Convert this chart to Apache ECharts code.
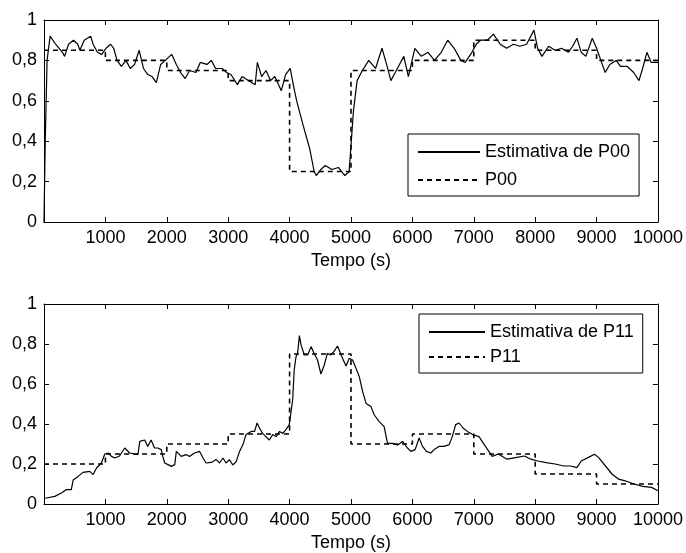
<!DOCTYPE html>
<html><head><meta charset="utf-8">
<script src="https://cdn.jsdelivr.net/npm/echarts@6/dist/echarts.min.js"></script>
<style>html,body{margin:0;padding:0;background:#fff}#c{width:686px;height:553px}</style>
</head><body><div id="c"></div>
<script>
// ---- data ----
const stepStarts = [0,1000,2000,3000,4000,5000,6000,7000,8000,9000,10000];
const p00True = [0.85,0.8,0.75,0.7,0.25,0.75,0.8,0.9,0.85,0.8];
const p11True = [0.2,0.25,0.3,0.35,0.75,0.3,0.35,0.25,0.15,0.1];

const p00EstTime = [0,20,50,100,190,300,335,400,480,550,585,655,760,800,870,940,1010,1085,1135,1190,1260,1335,1405,1475,1550,1620,1690,1760,1830,1900,1975,2080,2155,2225,2300,2370,2475,2545,2655,2725,2795,2900,2975,3045,3150,3225,3330,3440,3475,3545,3615,3690,3760,3865,3935,4010,4060,4115,4220,4330,4400,4435,4510,4580,4690,4795,4900,4970,5005,5040,5100,5185,5290,5400,5505,5580,5650,5720,5790,5860,5935,6040,6145,6255,6360,6470,6575,6680,6790,6860,6970,7040,7110,7220,7320,7430,7535,7645,7750,7860,7980,8040,8110,8220,8325,8430,8540,8610,8680,8750,8825,8930,9000,9070,9140,9215,9320,9390,9500,9605,9690,9750,9820,9890,10000];
const p00EstValue = [0.0,0.4,0.8,0.92,0.88,0.84,0.82,0.88,0.9,0.88,0.85,0.9,0.92,0.88,0.84,0.83,0.86,0.88,0.86,0.8,0.77,0.8,0.76,0.78,0.85,0.76,0.73,0.72,0.69,0.78,0.8,0.83,0.78,0.74,0.71,0.75,0.74,0.79,0.78,0.8,0.76,0.76,0.74,0.73,0.68,0.72,0.7,0.68,0.79,0.72,0.75,0.7,0.72,0.65,0.73,0.76,0.68,0.6,0.48,0.36,0.25,0.23,0.26,0.28,0.26,0.27,0.23,0.25,0.4,0.55,0.7,0.75,0.8,0.76,0.86,0.78,0.7,0.74,0.78,0.82,0.72,0.86,0.82,0.84,0.8,0.84,0.9,0.86,0.8,0.79,0.84,0.88,0.9,0.9,0.93,0.88,0.86,0.88,0.87,0.88,0.95,0.86,0.82,0.87,0.85,0.86,0.84,0.87,0.91,0.84,0.82,0.91,0.86,0.8,0.74,0.78,0.8,0.77,0.77,0.74,0.7,0.76,0.84,0.79,0.79];

const p11EstTime = [0,40,175,285,365,445,475,555,635,745,800,855,935,990,1045,1100,1150,1230,1315,1395,1475,1530,1560,1640,1690,1745,1800,1855,1910,1935,1965,2020,2075,2130,2155,2235,2315,2370,2450,2535,2590,2640,2725,2805,2860,2915,2965,3020,3075,3130,3185,3240,3290,3375,3430,3470,3510,3560,3615,3670,3725,3780,3835,3890,3940,3995,4020,4050,4075,4105,4130,4160,4185,4240,4295,4350,4400,4455,4510,4565,4615,4670,4725,4780,4830,4875,4920,4970,5025,5080,5135,5190,5245,5325,5380,5460,5540,5595,5675,5760,5840,5920,5975,6045,6110,6165,6230,6300,6355,6435,6515,6600,6650,6705,6760,6825,6895,6980,7085,7190,7300,7400,7540,7680,7825,7930,8040,8180,8325,8465,8575,8680,8750,8860,8965,9035,9145,9250,9360,9465,9610,9750,9895,10000];
const p11EstValue = [0.03,0.03,0.038,0.055,0.072,0.072,0.12,0.138,0.158,0.163,0.147,0.18,0.205,0.25,0.255,0.238,0.23,0.24,0.28,0.255,0.25,0.247,0.313,0.32,0.288,0.32,0.28,0.28,0.272,0.238,0.205,0.197,0.188,0.197,0.263,0.238,0.247,0.237,0.255,0.263,0.23,0.205,0.208,0.222,0.205,0.23,0.205,0.222,0.195,0.212,0.263,0.297,0.347,0.363,0.363,0.405,0.38,0.353,0.337,0.32,0.347,0.337,0.363,0.353,0.372,0.397,0.453,0.52,0.67,0.737,0.753,0.842,0.797,0.745,0.745,0.787,0.753,0.72,0.65,0.695,0.753,0.745,0.763,0.79,0.753,0.72,0.69,0.728,0.72,0.68,0.637,0.562,0.503,0.487,0.445,0.412,0.387,0.303,0.303,0.295,0.313,0.28,0.263,0.272,0.33,0.288,0.263,0.255,0.272,0.288,0.288,0.297,0.337,0.397,0.405,0.38,0.363,0.347,0.337,0.288,0.238,0.25,0.224,0.232,0.24,0.224,0.215,0.207,0.2,0.19,0.19,0.182,0.215,0.232,0.249,0.232,0.19,0.15,0.124,0.116,0.1,0.088,0.083,0.066];

const xTickLabels = ['', '1000','2000','3000','4000','5000','6000','7000','8000','9000','10000'];
const yTickLabels = ['0','0,2','0,4','0,6','0,8','1'];

// ---- build ----
const zip = (a, b) => a.map((v, i) => [v, b[i]]);
const stepData = vals => stepStarts.map((t, i) => [t, vals[Math.min(i, vals.length - 1)]]);
const FONT = 'Liberation Sans, Arial, sans-serif';
const black = '#000';

function xAx(grid, pos, main) {
  return {
    type: 'value', gridIndex: grid, position: pos, min: 0, max: 10000, interval: 1000,
    axisLine: { show: true, onZero: false, lineStyle: { color: black, width: 1 } },
    axisTick: { show: true, inside: true, length: 5, lineStyle: { color: black } },
    axisLabel: main ? { show: true, color: black, fontSize: 18, fontFamily: FONT, margin: 7,
      formatter: v => xTickLabels[Math.round(v / 1000)] } : { show: false },
    splitLine: { show: false },
    name: main ? 'Tempo (s)' : '', nameLocation: 'middle', nameGap: 30,
    nameTextStyle: { color: black, fontSize: 18, fontFamily: FONT }
  };
}
function yAx(grid, pos, main) {
  return {
    type: 'value', gridIndex: grid, position: pos, min: 0, max: 1, interval: 0.2,
    axisLine: { show: true, onZero: false, lineStyle: { color: black, width: 1 } },
    axisTick: { show: true, inside: true, length: 5, lineStyle: { color: black } },
    axisLabel: main ? { show: true, color: black, fontSize: 18, fontFamily: FONT, margin: 7,
      formatter: v => yTickLabels[Math.round(v * 5)] } : { show: false },
    splitLine: { show: false }
  };
}
function legend(names, left, top, itemW, gap) {
  return {
    data: names, orient: 'vertical', left: left, top: top,
    backgroundColor: '#fff', borderColor: black, borderWidth: 1,
    padding: [8, 9, 6, 9], itemWidth: itemW, itemHeight: 14, itemGap: gap,
    itemStyle: { opacity: 0, color: 'rgba(0,0,0,0)', borderWidth: 0 },
    textStyle: { color: black, fontSize: 18, fontFamily: FONT, lineHeight: 20 }
  };
}
const estStyle = { color: black, width: 1.2 };
const trueStyle = { color: black, width: 1.6, type: [5, 4] };

const option = {
  backgroundColor: '#fff',
  animation: false,
  grid: [
    { left: 44, right: 27, top: 20, height: 202, containLabel: false },
    { left: 44, right: 27, top: 304, height: 200, containLabel: false }
  ],
  xAxis: [xAx(0, 'bottom', true), xAx(0, 'top', false), xAx(1, 'bottom', true), xAx(1, 'top', false)],
  yAxis: [yAx(0, 'left', true), yAx(0, 'right', false), yAx(1, 'left', true), yAx(1, 'right', false)],
  legend: [
    legend(['Estimativa de P00', 'P00'], 408, 134, 62, 8),
    legend(['Estimativa de P11', 'P11'], 419, 314, 56, 5)
  ],
  series: [
    { name: 'Estimativa de P00', type: 'line', xAxisIndex: 0, yAxisIndex: 0, data: zip(p00EstTime, p00EstValue),
      symbol: 'none', lineStyle: estStyle, itemStyle: { color: black } },
    { name: 'P00', type: 'line', xAxisIndex: 0, yAxisIndex: 0, data: stepData(p00True), step: 'end',
      symbol: 'none', lineStyle: trueStyle, itemStyle: { color: black } },
    { name: 'Estimativa de P11', type: 'line', xAxisIndex: 2, yAxisIndex: 2, data: zip(p11EstTime, p11EstValue),
      symbol: 'none', lineStyle: estStyle, itemStyle: { color: black } },
    { name: 'P11', type: 'line', xAxisIndex: 2, yAxisIndex: 2, data: stepData(p11True), step: 'end',
      symbol: 'none', lineStyle: trueStyle, itemStyle: { color: black } }
  ]
};
const chart = echarts.init(document.getElementById('c'), null, { renderer: 'canvas' });
chart.setOption(option);
</script>
</body></html>
